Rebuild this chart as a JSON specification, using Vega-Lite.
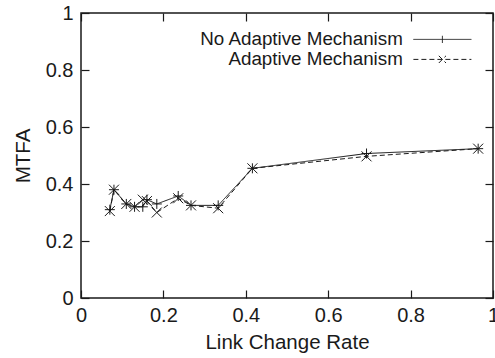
{
  "$schema": "https://vega.github.io/schema/vega-lite/v6.json",
  "width": 412,
  "height": 285,
  "autosize": {"type": "none"},
  "padding": {"left": 81, "top": 13, "right": 2, "bottom": 60},
  "config": {
    "view": {"stroke": "#1a1a1a", "strokeWidth": 1.5},
    "font": "Liberation Sans",
    "axis": {
      "domain": false, "grid": false, "tickSize": -8, "tickColor": "#1a1a1a", "tickWidth": 1.2,
      "labelFontSize": 20, "labelColor": "#1a1a1a", "titleFontSize": 20.5, "titleFontWeight": "normal",
      "titleColor": "#1a1a1a", "labelFont": "Liberation Sans", "titleFont": "Liberation Sans",
      "labelFlush": false, "format": "~g"
    }
  },
  "data": {
    "values": [
      {"rate": 0.07, "mtfa": 0.31, "series": "No Adaptive Mechanism"},
      {"rate": 0.08, "mtfa": 0.38, "series": "No Adaptive Mechanism"},
      {"rate": 0.11, "mtfa": 0.33, "series": "No Adaptive Mechanism"},
      {"rate": 0.13, "mtfa": 0.32, "series": "No Adaptive Mechanism"},
      {"rate": 0.15, "mtfa": 0.32, "series": "No Adaptive Mechanism"},
      {"rate": 0.16, "mtfa": 0.345, "series": "No Adaptive Mechanism"},
      {"rate": 0.184, "mtfa": 0.33, "series": "No Adaptive Mechanism"},
      {"rate": 0.236, "mtfa": 0.358, "series": "No Adaptive Mechanism"},
      {"rate": 0.267, "mtfa": 0.325, "series": "No Adaptive Mechanism"},
      {"rate": 0.333, "mtfa": 0.325, "series": "No Adaptive Mechanism"},
      {"rate": 0.416, "mtfa": 0.455, "series": "No Adaptive Mechanism"},
      {"rate": 0.693, "mtfa": 0.507, "series": "No Adaptive Mechanism"},
      {"rate": 0.964, "mtfa": 0.524, "series": "No Adaptive Mechanism"},
      {"rate": 0.07, "mtfa": 0.305, "series": "Adaptive Mechanism"},
      {"rate": 0.08, "mtfa": 0.38, "series": "Adaptive Mechanism"},
      {"rate": 0.11, "mtfa": 0.33, "series": "Adaptive Mechanism"},
      {"rate": 0.13, "mtfa": 0.32, "series": "Adaptive Mechanism"},
      {"rate": 0.15, "mtfa": 0.345, "series": "Adaptive Mechanism"},
      {"rate": 0.16, "mtfa": 0.34, "series": "Adaptive Mechanism"},
      {"rate": 0.184, "mtfa": 0.3, "series": "Adaptive Mechanism"},
      {"rate": 0.236, "mtfa": 0.35, "series": "Adaptive Mechanism"},
      {"rate": 0.267, "mtfa": 0.325, "series": "Adaptive Mechanism"},
      {"rate": 0.333, "mtfa": 0.315, "series": "Adaptive Mechanism"},
      {"rate": 0.416, "mtfa": 0.455, "series": "Adaptive Mechanism"},
      {"rate": 0.693, "mtfa": 0.497, "series": "Adaptive Mechanism"},
      {"rate": 0.964, "mtfa": 0.524, "series": "Adaptive Mechanism"}
    ]
  },
  "layer": [
    {
      "mark": {"type": "line", "strokeWidth": 1, "color": "#1a1a1a"},
      "encoding": {
        "x": {"field": "rate", "type": "quantitative", "scale": {"domain": [0, 1], "nice": false},
          "axis": {"values": [0, 0.2, 0.4, 0.6, 0.8, 1], "title": "Link Change Rate", "labelPadding": 15, "titlePadding": 7}},
        "y": {"field": "mtfa", "type": "quantitative", "scale": {"domain": [0, 1], "nice": false},
          "axis": {"values": [0, 0.2, 0.4, 0.6, 0.8, 1], "title": "MTFA", "labelPadding": 16, "titlePadding": 12}},
        "strokeDash": {
          "field": "series", "type": "nominal",
          "scale": {"domain": ["No Adaptive Mechanism", "Adaptive Mechanism"], "range": [[1, 0], [5, 3]]},
          "legend": {
            "title": null, "orient": "none", "legendX": 352, "legendY": 17,
            "labelAlign": "right", "labelOffset": -49, "symbolSize": 64, "symbolStrokeWidth": 1,
            "symbolStrokeColor": "#1a1a1a", "labelFontSize": 18.8, "labelFont": "Liberation Sans",
            "labelColor": "#1a1a1a", "labelLimit": 300, "rowPadding": 0,
            "encode": {"symbols": {"update": {"shape": {"signal": "datum.value === 'Adaptive Mechanism' ? 'M-7.25,0L7.25,0M-0.9,-0.9L0.9,0.9M-0.9,0.9L0.9,-0.9' : 'M-7.25,0L7.25,0M0,-0.9L0,0.9'"}}}}
          }
        }
      }
    },
    {
      "transform": [{"filter": "datum.series === 'No Adaptive Mechanism'"}],
      "mark": {"type": "point", "filled": false, "strokeWidth": 1, "size": 100, "color": "#1a1a1a", "opacity": 1, "shape": "M-1,0H1M0,-1V1"},
      "encoding": {
        "x": {"field": "rate", "type": "quantitative", "axis": null},
        "y": {"field": "mtfa", "type": "quantitative", "axis": null}
      }
    },
    {
      "transform": [{"filter": "datum.series === 'Adaptive Mechanism'"}],
      "mark": {"type": "point", "filled": false, "strokeWidth": 1, "size": 100, "color": "#1a1a1a", "opacity": 1, "shape": "M-1,-1L1,1M-1,1L1,-1"},
      "encoding": {
        "x": {"field": "rate", "type": "quantitative", "axis": null},
        "y": {"field": "mtfa", "type": "quantitative", "axis": null}
      }
    },
    {
      "mark": {"type": "point", "opacity": 0},
      "encoding": {
        "x": {"field": "rate", "type": "quantitative", "axis": {"orient": "top", "labels": false, "title": null, "values": [0, 0.2, 0.4, 0.6, 0.8, 1]}},
        "y": {"field": "mtfa", "type": "quantitative", "axis": {"orient": "right", "labels": false, "title": null, "values": [0, 0.2, 0.4, 0.6, 0.8, 1]}}
      }
    }
  ],
  "resolve": {"axis": {"x": "independent", "y": "independent"}}
}
